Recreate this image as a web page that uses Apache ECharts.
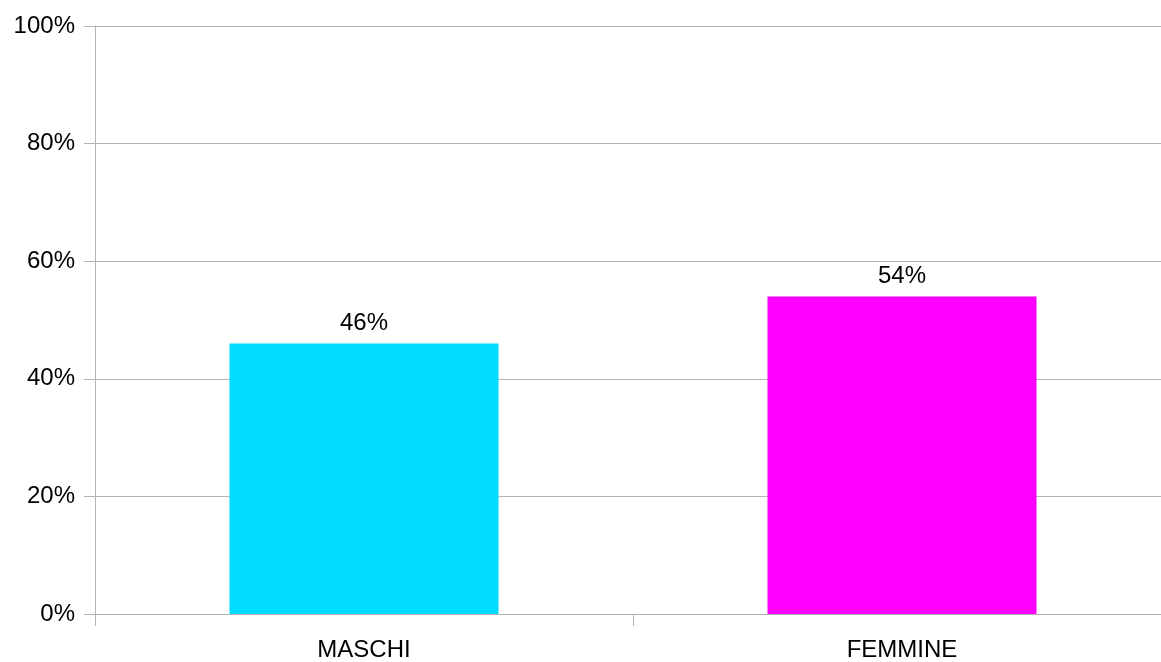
<!DOCTYPE html>
<html>
<head>
<meta charset="utf-8">
<script src="https://cdn.jsdelivr.net/npm/echarts@6/dist/echarts.min.js"></script>
<style>html,body{margin:0;padding:0;background:#fff;overflow:hidden}#c{width:1171px;height:662px}</style>
</head>
<body>
<div id="c"></div>
<script>
const categories = ['MASCHI', 'FEMMINE'];
const values = [46, 54];
const barColors = ['#00DCFF', '#FF00FF'];
const yTicks = [0, 20, 40, 60, 80, 100];

const chart = echarts.init(document.getElementById('c'), null, {renderer: 'canvas'});
const font = '"Liberation Sans", Arial, sans-serif';
chart.setOption({
  animation: false,
  grid: {left: 95, right: 0, top: 26, bottom: 47, containLabel: false},
  xAxis: {
    type: 'category',
    data: categories,
    axisLine: {show: true, lineStyle: {color: '#b3b3b3', width: 1}},
    axisTick: {show: true, alignWithLabel: false, length: 12, lineStyle: {color: '#b3b3b3'}},
    axisLabel: {color: '#000', fontSize: 24, fontFamily: font, margin: 24}
  },
  yAxis: {
    type: 'value',
    min: yTicks[0],
    max: yTicks[yTicks.length - 1],
    interval: 20,
    axisLine: {show: true, lineStyle: {color: '#b3b3b3', width: 1}},
    axisTick: {show: true, length: 11, lineStyle: {color: '#b3b3b3'}},
    splitLine: {show: true, lineStyle: {color: '#b3b3b3', width: 1}},
    axisLabel: {color: '#000', fontSize: 24, fontFamily: font, margin: 20, padding: [4, 0, 0, 0], formatter: '{value}%'}
  },
  series: [{
    type: 'bar',
    barWidth: '50%',
    data: values.map((v, i) => ({value: v, itemStyle: {color: barColors[i]}})),
    label: {show: true, position: 'top', distance: 8, color: '#000', fontSize: 24, fontFamily: font, formatter: '{c}%'}
  }]
});
</script>
</body>
</html>
